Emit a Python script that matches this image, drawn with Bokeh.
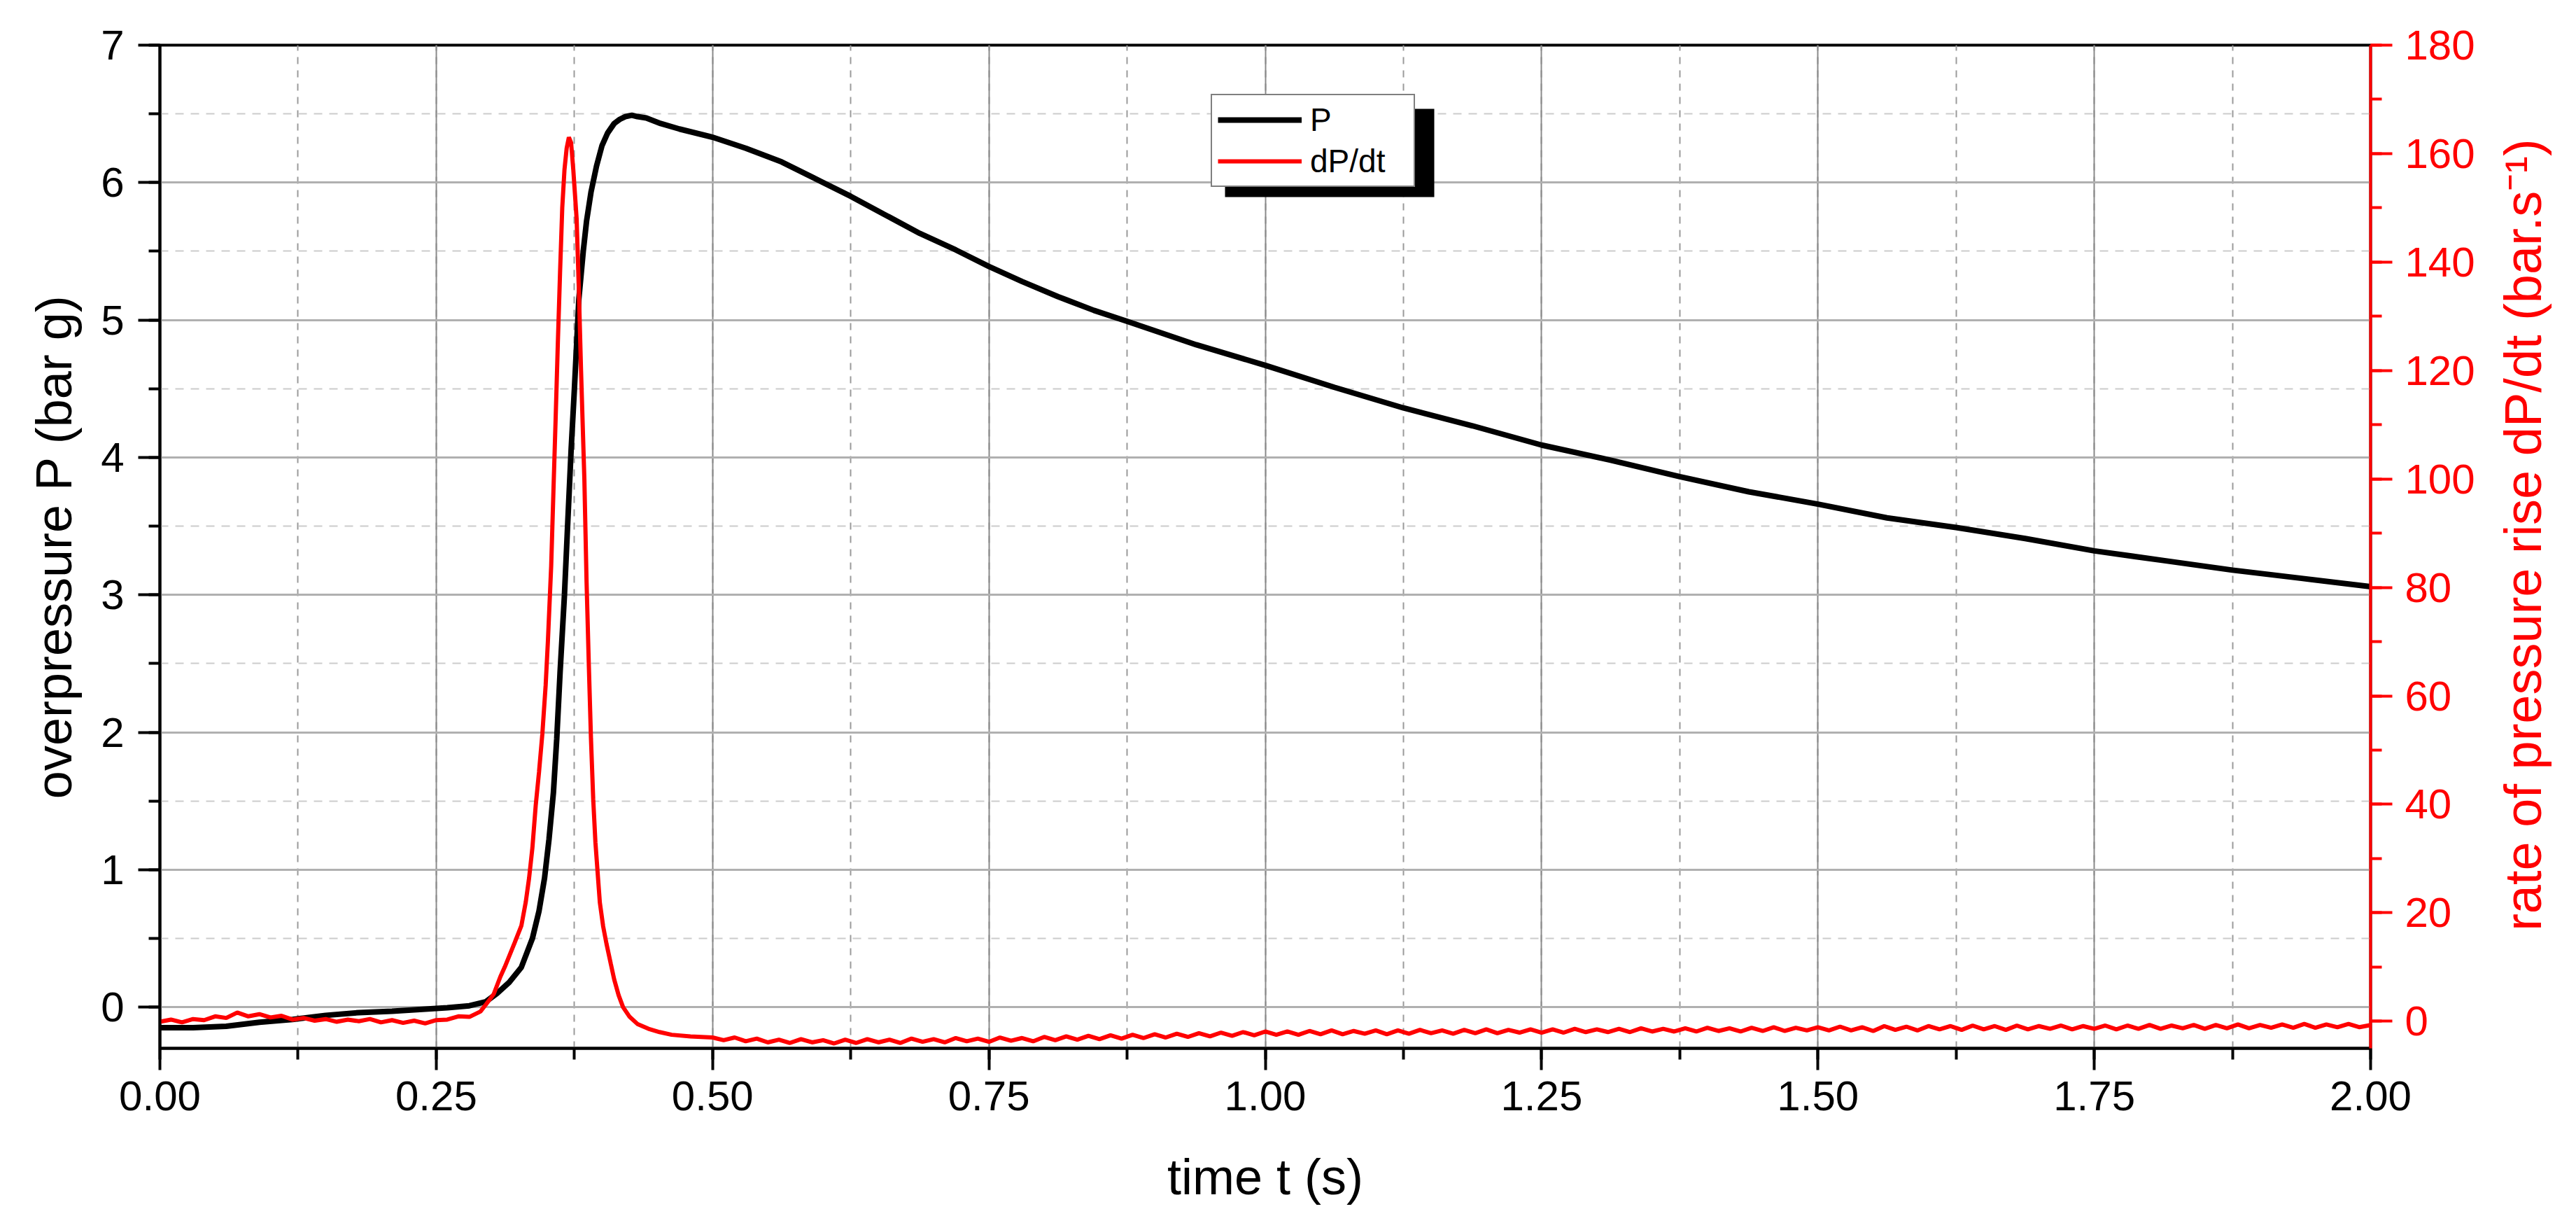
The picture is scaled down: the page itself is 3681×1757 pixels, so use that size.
import math
from bokeh.plotting import figure
from bokeh.layouts import row
from bokeh.models import (Range1d, LinearAxis, SingleIntervalTicker, NumeralTickFormatter,
                          Legend, LegendItem, BoxAnnotation, Label)
from bokeh.embed import file_html
from bokeh.resources import INLINE

FONT = "Liberation Sans"

# ---------------- data ----------------
t_P = [0.00, 0.03, 0.06, 0.09, 0.12, 0.15, 0.18, 0.21, 0.24, 0.26, 0.28, 0.295, 0.305,
       0.316, 0.327, 0.337, 0.343, 0.348, 0.352, 0.356, 0.359, 0.362, 0.366, 0.369, 0.372,
       0.375, 0.379, 0.383, 0.386, 0.39, 0.395, 0.40, 0.405, 0.411, 0.416, 0.421, 0.427,
       0.432, 0.44, 0.453, 0.47, 0.50, 0.53, 0.5625, 0.59, 0.625, 0.655, 0.6875, 0.72,
       0.75, 0.78, 0.8125, 0.845, 0.875, 0.9375, 1.0, 1.0625, 1.125, 1.1875, 1.25, 1.3125,
       1.375, 1.4375, 1.5, 1.5625, 1.625, 1.6875, 1.75, 1.8125, 1.875, 1.9375, 2.0]
P = [-0.15, -0.15, -0.14, -0.11, -0.09, -0.06, -0.04, -0.03, -0.015, -0.005, 0.01, 0.04, 0.10,
     0.18, 0.29, 0.50, 0.70, 0.94, 1.22, 1.56, 1.95, 2.43, 3.00, 3.53, 4.05,
     4.50, 5.15, 5.50, 5.72, 5.93, 6.12, 6.27, 6.36, 6.43, 6.46, 6.48, 6.49,
     6.48, 6.47, 6.43, 6.39, 6.33, 6.25, 6.15, 6.04, 5.90, 5.77, 5.63, 5.51,
     5.39, 5.28, 5.17, 5.07, 4.99, 4.82, 4.67, 4.51, 4.36, 4.23, 4.09, 3.98,
     3.86, 3.75, 3.66, 3.56, 3.49, 3.41, 3.32, 3.25, 3.18, 3.12, 3.06]

t_R_head = [0.00, 0.01, 0.02, 0.03, 0.04, 0.05, 0.06, 0.07, 0.08, 0.09, 0.10, 0.11, 0.12,
            0.13, 0.14, 0.15, 0.16, 0.17, 0.18, 0.19, 0.20, 0.21, 0.22, 0.23, 0.24, 0.25,
            0.26, 0.27, 0.28, 0.29, 0.295, 0.302, 0.308, 0.312, 0.316, 0.321, 0.327, 0.331,
            0.334, 0.337, 0.340, 0.343, 0.346, 0.349, 0.351, 0.354, 0.356, 0.358, 0.360,
            0.362, 0.364, 0.366, 0.368, 0.370, 0.372, 0.374, 0.377, 0.379, 0.381, 0.384,
            0.386, 0.388, 0.390, 0.392, 0.394, 0.398, 0.401, 0.404, 0.408, 0.411, 0.415,
            0.419, 0.425, 0.432, 0.442, 0.452, 0.463, 0.48]
R_head = [-0.1, 0.3, -0.2, 0.4, 0.2, 0.9, 0.6, 1.6, 0.9, 1.3, 0.7, 1.0, 0.3,
          0.6, 0.1, 0.4, -0.1, 0.3, 0.0, 0.4, -0.2, 0.2, -0.3, 0.1, -0.4, 0.2,
          0.3, 0.9, 0.8, 1.8, 3.1, 5.0, 8.2, 10.0, 12.0, 14.5, 17.6, 22.0,
          26.4, 32.0, 39.8, 46.0, 53.0, 62.0, 70.0, 84.0, 97.6, 111.0, 125.0,
          138.0, 150.0, 157.0, 161.0, 163.0, 162.0, 157.0, 148.0, 135.0, 120.0, 100.0,
          81.0, 66.0, 52.0, 41.0, 33.0, 21.9, 17.5, 14.3, 10.5, 7.7, 4.8,
          2.6, 0.8, -0.5, -1.4, -2.0, -2.5, -2.8]

# tail of dP/dt, sampled every 0.01 s from 0.50 s to 2.00 s
R_tail = [-3.0, -3.5, -3.0, -3.7, -3.2, -3.9, -3.4, -4.0, -3.3, -3.9,
          -3.5, -4.1, -3.4, -4.0, -3.3, -3.9, -3.4, -4.0, -3.2, -3.8,
          -3.3, -3.9, -3.1, -3.7, -3.2, -3.8, -3.0, -3.6, -3.1, -3.7,
          -2.9, -3.5, -2.8, -3.4, -2.7, -3.3, -2.6, -3.2, -2.5, -3.1,
          -2.4, -3.0, -2.3, -2.9, -2.2, -2.8, -2.1, -2.7, -2.0, -2.6,
          -1.9, -2.5, -1.9, -2.5, -1.8, -2.4, -1.7, -2.4, -1.8, -2.3,
          -1.7, -2.4, -1.7, -2.3, -1.6, -2.2, -1.7, -2.3, -1.6, -2.2,
          -1.5, -2.2, -1.6, -2.1, -1.5, -2.1, -1.5, -2.1, -1.4, -2.0,
          -1.5, -2.0, -1.4, -2.0, -1.3, -1.9, -1.4, -1.9, -1.3, -1.9,
          -1.2, -1.8, -1.3, -1.9, -1.2, -1.8, -1.1, -1.8, -1.2, -1.7,
          -1.1, -1.7, -1.0, -1.7, -1.1, -1.8, -0.9, -1.6, -1.0, -1.7,
          -0.9, -1.5, -0.9, -1.6, -0.8, -1.5, -0.9, -1.6, -0.8, -1.5,
          -0.9, -1.4, -0.8, -1.5, -0.9, -1.4, -0.8, -1.5, -0.8, -1.4,
          -0.7, -1.4, -0.8, -1.3, -0.7, -1.4, -0.7, -1.3, -0.6, -1.3,
          -0.7, -1.2, -0.6, -1.2, -0.5, -1.2, -0.6, -1.1, -0.5, -1.1,
          -0.7]
t_R_tail = [round(0.50 + 0.01 * i, 2) for i in range(len(R_tail))]

t_R = t_R_head + t_R_tail
R = R_head + R_tail

x_ticks_interval = 0.25
y_ticks_interval = 1
r_ticks_interval = 20

RIGHT_TITLE = "rate of pressure rise dP/dt (bar.s\u207b\u00b9)"

# ---------------- layout ----------------
TOTAL_W, H = 3665, 1741
SIDE_W = 103                      # narrow strip that carries the right-hand axis title
W = TOTAL_W - SIDE_W
BL, BR, BT, BB = 228, 175, 64, 244
FRAME_W = W - BL - BR
FRAME_H = H - BT - BB
X0, X1 = 0.0, 2.0
Y0, Y1 = -0.3, 7.0
R0, R1 = -5.0, 180.0

def fx(px):
    return X0 + px / FRAME_W * (X1 - X0)
def fy(py):
    return Y0 + py / FRAME_H * (Y1 - Y0)

p = figure(width=W, height=H, output_backend="svg", toolbar_location=None,
           x_range=Range1d(X0, X1), y_range=Range1d(Y0, Y1),
           min_border_left=BL, min_border_right=BR, min_border_top=BT, min_border_bottom=BB)
p.extra_y_ranges = {"rate": Range1d(R0, R1)}
p.background_fill_color = "white"
p.border_fill_color = "white"
p.outline_line_color = "black"
p.outline_line_width = 4

xt = SingleIntervalTicker(interval=x_ticks_interval, num_minor_ticks=2)
yt = SingleIntervalTicker(interval=y_ticks_interval, num_minor_ticks=2)
rt = SingleIntervalTicker(interval=r_ticks_interval, num_minor_ticks=2)

def style_axis(ax, color):
    ax.axis_line_color = color
    ax.axis_line_width = 4
    ax.major_tick_line_color = color
    ax.minor_tick_line_color = color
    ax.major_tick_line_width = 4
    ax.minor_tick_line_width = 4
    ax.major_tick_out = 31
    ax.major_tick_in = 0
    ax.minor_tick_out = 16
    ax.minor_tick_in = 0
    ax.major_label_text_color = color
    ax.major_label_text_font = FONT
    ax.major_label_text_font_size = "60px"
    ax.axis_label_text_color = color
    ax.axis_label_text_font = FONT
    ax.axis_label_text_font_size = "72px"
    ax.axis_label_text_font_style = "normal"

xa = p.xaxis[0]
xa.ticker = xt
xa.formatter = NumeralTickFormatter(format="0.00")
xa.axis_label = "time t (s)"
style_axis(xa, "black")
xa.major_label_standoff = 16
xa.axis_label_standoff = 52

ya = p.yaxis[0]
ya.ticker = yt
ya.axis_label = "overpressure P (bar g)"
style_axis(ya, "black")
ya.major_label_standoff = 20
ya.axis_label_standoff = 24

ra = LinearAxis(y_range_name="rate", ticker=rt)
style_axis(ra, "#ff0000")
ra.major_label_standoff = 18
p.add_layout(ra, "right")

# grids
xg = p.xgrid[0]
xg.ticker = xt
xg.grid_line_color = "#8a8a8a"
xg.grid_line_width = 2
xg.minor_grid_line_color = "#9a9a9a"
xg.minor_grid_line_width = 2
xg.minor_grid_line_dash = "10 9"

yg = p.ygrid[0]
yg.ticker = yt
yg.grid_line_color = "#b0b0b0"
yg.grid_line_width = 3
yg.minor_grid_line_color = "#cccccc"
yg.minor_grid_line_width = 2
yg.minor_grid_line_dash = "12 10"

# curves
rP = p.line(t_P, P, line_color="black", line_width=8)
rR = p.line(t_R, R, line_color="#ff0000", line_width=6, y_range_name="rate")

# legend with drop shadow
LX, LY = 1502, 1236      # target legend bottom-left, px from frame bottom-left
LW, LH = 299, 126
SH = 20
shadow = BoxAnnotation(left=fx(LX + SH), right=fx(LX + LW + SH),
                       bottom=fy(LY - SH), top=fy(LY + LH - SH),
                       fill_color="black", fill_alpha=1.0, line_alpha=0.0)
p.add_layout(shadow)

legend = Legend(items=[LegendItem(label="P", renderers=[rP]),
                       LegendItem(label="dP/dt", renderers=[rR])],
                location=(LX, LY - 6), margin=0, padding=8, spacing=5,
                glyph_width=120, glyph_height=40, label_height=40, label_width=140,
                label_standoff=12,
                label_text_font=FONT, label_text_font_size="46px", label_text_color="black",
                border_line_color="black", border_line_width=2,
                background_fill_color="white", background_fill_alpha=1.0)
p.add_layout(legend)

# side strip with the right-hand axis title (reads bottom-to-top, as in the reference)
q = figure(width=SIDE_W, height=H, output_backend="svg", toolbar_location=None,
           x_range=Range1d(0, SIDE_W), y_range=Range1d(0, H),
           x_axis_location=None, y_axis_location=None, min_border=0)
q.grid.visible = False
q.outline_line_color = None
q.background_fill_color = "white"
q.border_fill_color = "white"
q.add_layout(Label(x=43, y=H - 850, text=RIGHT_TITLE, angle=math.pi / 2,
                   text_align="center", text_baseline="middle", text_font=FONT,
                   text_font_size="74px", text_color="#ff0000"))

layout = row(p, q, spacing=0)
open("out.html", "w").write(file_html(layout, INLINE))
